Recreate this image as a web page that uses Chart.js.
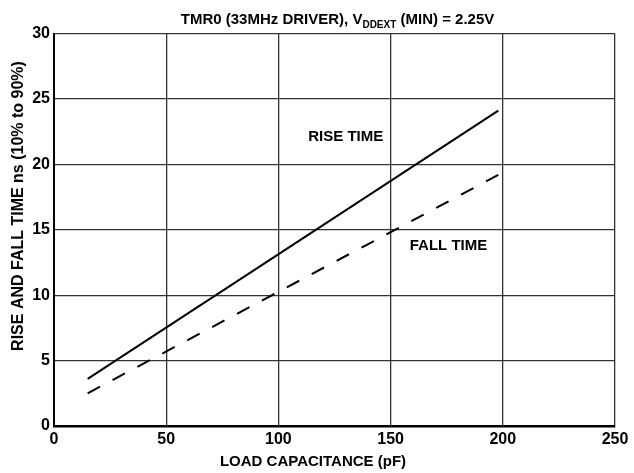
<!DOCTYPE html>
<html>
<head>
<meta charset="utf-8">
<script src="https://cdn.jsdelivr.net/npm/chart.js@4/dist/chart.umd.min.js"></script>
<style>
  html, body { margin: 0; padding: 0; background: #fff; }
  #wrap { width: 634px; height: 473px; position: relative; }
</style>
</head>
<body>
<div id="wrap"><canvas id="c" width="634" height="473"></canvas></div>
<script>
// ---- data ----
const riseCap = [15, 198];        // load capacitance (pF)
const riseTime = [3.6, 24.1];     // ns
const fallCap = [15, 198];
const fallTime = [2.5, 19.2];
const xTicks = [0, 50, 100, 150, 200, 250];
const yTicks = [0, 5, 10, 15, 20, 25, 30];
const seriesLabels = ['RISE TIME', 'FALL TIME'];
const labelAnchors = [[130, 22.1], [175.8, 13.8]];   // data coords of the in-plot labels
const titleMain = 'TMR0 (33MHz DRIVER), V';
const titleSub = 'DDEXT';
const titleTail = ' (MIN) = 2.25V';
const xTitle = 'LOAD CAPACITANCE (pF)';
const yTitle = 'RISE AND FALL TIME ns (10% to 90%)';

const FONT = '"Liberation Sans", Arial, Helvetica, sans-serif';

const toPts = (xs, ys) => xs.map((x, i) => ({ x: x, y: ys[i] }));

const decor = {
  id: 'decor',
  afterDraw(chart) {
    const ctx = chart.ctx;
    const xs = chart.scales.x, ys = chart.scales.y;
    ctx.save();
    ctx.fillStyle = '#000';
    // series labels
    ctx.font = 'bold 15px ' + FONT;
    ctx.textAlign = 'center';
    ctx.textBaseline = 'middle';
    seriesLabels.forEach((t, i) => {
      ctx.fillText(t, xs.getPixelForValue(labelAnchors[i][0]), ys.getPixelForValue(labelAnchors[i][1]));
    });
    // x-axis title
    ctx.fillText(xTitle, 313, 462);
    // title with subscript
    const big = 'bold 15px ' + FONT, small = 'bold 10px ' + FONT;
    ctx.font = big; const w1 = ctx.measureText(titleMain).width; const w3 = ctx.measureText(titleTail).width;
    ctx.font = small; const w2 = ctx.measureText(titleSub).width;
    const total = w1 + w2 + w3;
    const cx = 337.5;
    let x = cx - total / 2;
    const by = 23.5;
    ctx.textAlign = 'left';
    ctx.textBaseline = 'alphabetic';
    ctx.font = big; ctx.fillText(titleMain, x, by); x += w1;
    ctx.font = small; ctx.fillText(titleSub, x, by + 4); x += w2;
    ctx.font = big; ctx.fillText(titleTail, x, by);
    // y-axis title
    ctx.translate(18.5, 206);
    ctx.rotate(-Math.PI / 2);
    ctx.textAlign = 'center';
    ctx.textBaseline = 'middle';
    ctx.font = 'bold 16px ' + FONT;
    ctx.fillText(yTitle, 0, 0);
    ctx.restore();
  }
};

new Chart(document.getElementById('c'), {
  type: 'scatter',
  data: {
    datasets: [
      { label: seriesLabels[0], data: toPts(riseCap, riseTime), showLine: true, borderColor: '#000', borderWidth: 2, pointRadius: 0, fill: false },
      { label: seriesLabels[1], data: toPts(fallCap, fallTime), showLine: true, borderColor: '#000', borderWidth: 2, borderDash: [14, 14.2], pointRadius: 0, fill: false }
    ]
  },
  options: {
    responsive: false,
    animation: false,
    devicePixelRatio: 1,
    layout: { padding: { top: 33.5, right: 19, left: 0, bottom: 0 } },
    plugins: { legend: { display: false }, tooltip: { enabled: false }, title: { display: false } },
    scales: {
      x: {
        type: 'linear', min: 0, max: 250,
        afterBuildTicks: s => { s.ticks = xTicks.map(v => ({ value: v })); },
        afterFit: s => { s.height = 47; },
        grid: { color: '#333', lineWidth: 1.3, drawTicks: false },
        border: { color: '#000', width: 2.5 },
        ticks: { color: '#000', font: { family: FONT, size: 16, weight: 'bold' }, padding: 4, maxRotation: 0 },
        title: { display: false }
      },
      y: {
        type: 'linear', min: 0, max: 30,
        afterBuildTicks: s => { s.ticks = yTicks.map(v => ({ value: v })); },
        afterFit: s => { s.width = 54; },
        grid: { color: '#333', lineWidth: 1.3, drawTicks: false },
        border: { color: '#000', width: 2 },
        ticks: { color: '#000', font: { family: FONT, size: 16, weight: 'bold' }, padding: 4 }
      }
    }
  },
  plugins: [decor]
});
</script>
</body>
</html>
